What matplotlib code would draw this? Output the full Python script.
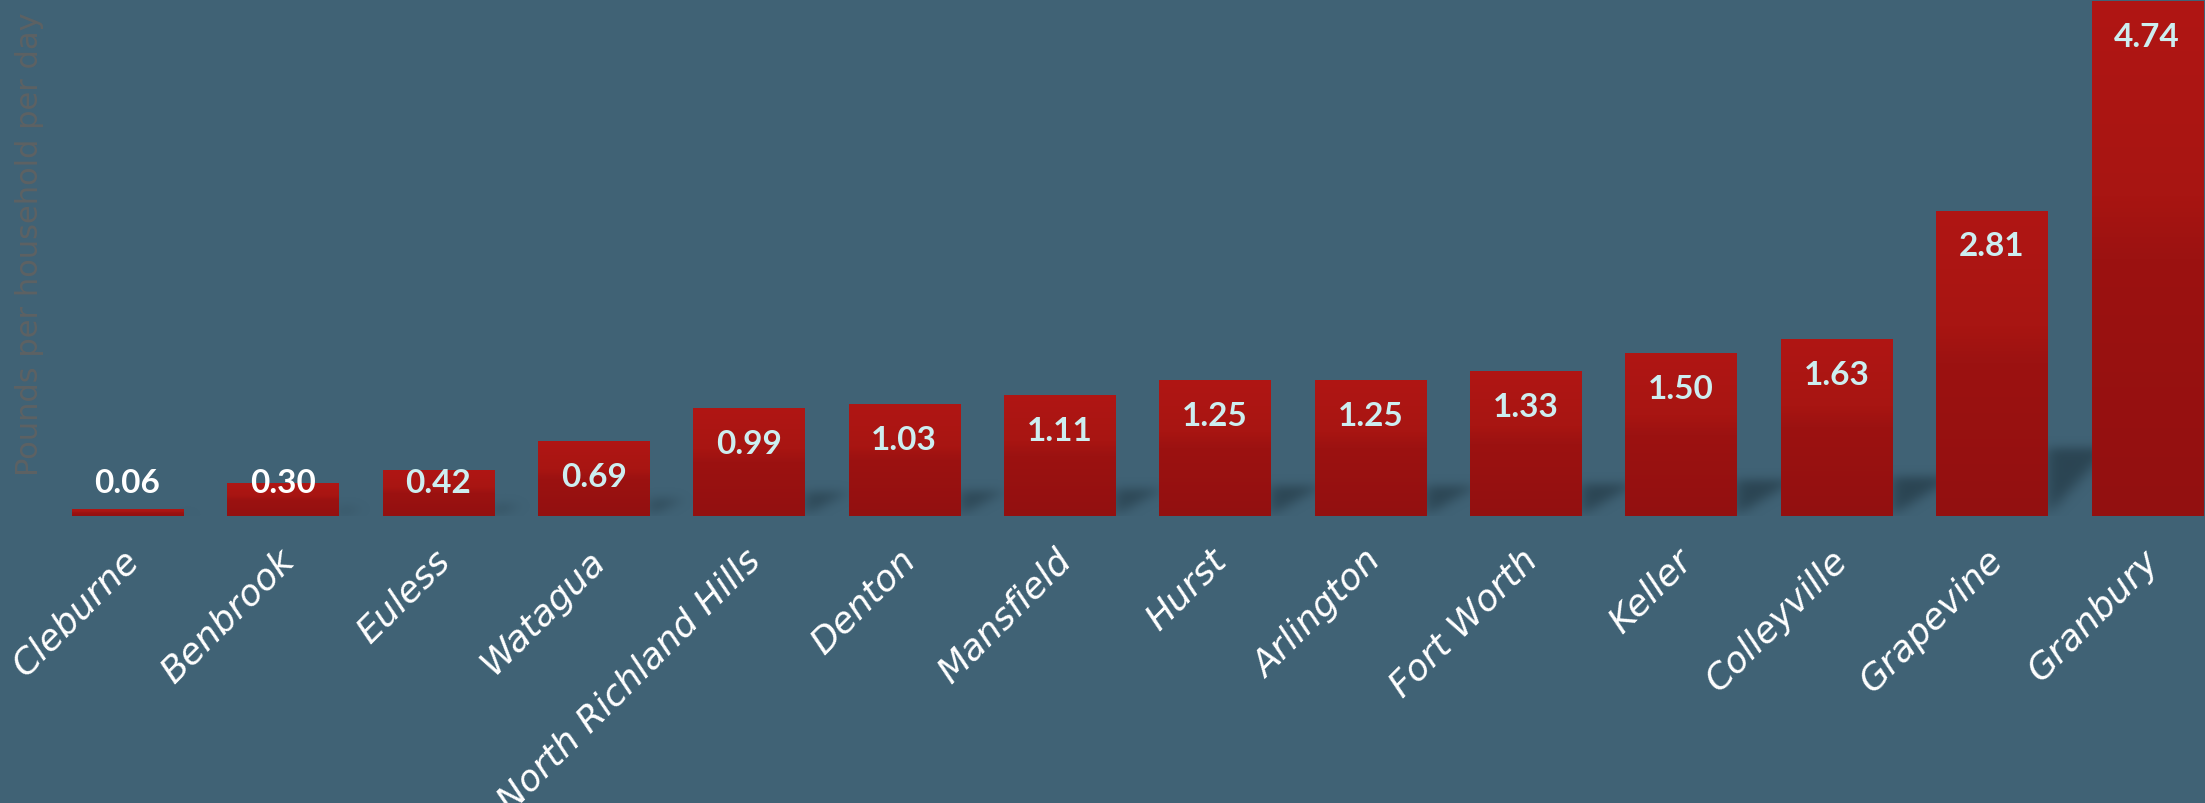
import numpy as np
import matplotlib
matplotlib.use("Agg")
import matplotlib.pyplot as plt
from matplotlib.colors import LinearSegmentedColormap
from matplotlib.transforms import ScaledTranslation

# Pounds per household per day, by city
cities = ["Cleburne", "Benbrook", "Euless", "Watagua", "North Richland Hills",
          "Denton", "Mansfield", "Hurst", "Arlington", "Fort Worth", "Keller",
          "Colleyville", "Grapevine", "Granbury"]
pounds = [0.06, 0.30, 0.42, 0.69, 0.99, 1.03, 1.11, 1.25, 1.25, 1.33, 1.50,
          1.63, 2.81, 4.74]
value_labels = ["0.06", "0.30", "0.42", "0.69", "0.99", "1.03", "1.11", "1.25",
                "1.25", "1.33", "1.50", "1.63", "2.81", "4.74"]

bg = "#406275"
bar_width = 0.715
xlo, xhi = -0.821, 13.373
ytop = 4.758

fig = plt.figure(figsize=(22.05, 8.04), dpi=100, facecolor=bg)
ax = fig.add_axes([0, 287 / 804, 1, 517 / 804])
ax.set_facecolor(bg)
ax.set_xlim(xlo, xhi)
ax.set_ylim(0, ytop)

x = np.arange(len(cities))

# soft wedge-shaped shadows to the right of each bar
nx, ny = 2205, 517
gx = np.linspace(xlo, xhi, nx)
gy = np.linspace(0, ytop, ny)
GX, GY = np.meshgrid(gx, gy)
mask = np.zeros_like(GX)
for xi, h in zip(x, pounds):
    xr = xi + bar_width / 2
    ts = 0.22 * h
    reach = 0.32 * min(h, 1.6) / 1.6 + 0.08
    inside = (GY <= ts) & (GX >= xr) & (GX <= xr + reach * GY / max(ts, 1e-3))
    mask = np.maximum(mask, inside * min(0.35 + 0.25 * h, 0.7))

def blur(a, sigma, axis):
    k = np.arange(-3 * sigma, 3 * sigma + 1)
    k = np.exp(-0.5 * (k / sigma) ** 2)
    k /= k.sum()
    return np.apply_along_axis(lambda r: np.convolve(r, k, mode="same"), axis, a)

alpha = blur(blur(mask, 7, 1), 5, 0)
shadow = np.zeros(GX.shape + (4,))
shadow[..., 0:3] = np.array([0x22, 0x38, 0x44]) / 255
shadow[..., 3] = np.clip(alpha, 0, 1)
ax.imshow(shadow, extent=(xlo, xhi, 0, ytop), origin="lower",
          aspect="auto", zorder=1, interpolation="bilinear")

bars = ax.bar(x, pounds, width=bar_width, color="#a31411", zorder=2)

grad = LinearSegmentedColormap.from_list(
    "barred", [(0, "#931010"), (0.5, "#9c1211"), (0.62, "#a81512"), (1, "#b01614")])
for b in bars:
    x0, w, h = b.get_x(), b.get_width(), b.get_height()
    im = ax.imshow(np.linspace(0, 1, 200).reshape(-1, 1), cmap=grad,
                   extent=(x0, x0 + w, 0, h), origin="lower", aspect="auto",
                   zorder=3)
    im.set_clip_path(b)

# value labels, just inside the top of each bar
for i, (xi, h, txt) in enumerate(zip(x, pounds, value_labels)):
    ly = max(h - 0.325, 0.308)
    col = "white" if i < 2 else "#cdeef0"
    ax.text(xi, ly, txt, ha="center", va="center", fontsize=24,
            fontweight="bold", family="Lato", color=col, zorder=4)

ax.set_xticks(x)
ax.set_xticklabels(cities, rotation=45, ha="right", rotation_mode="anchor",
                   fontsize=26, family="DejaVu Sans", fontstyle="oblique",
                   color="white")
ax.tick_params(axis="x", length=0, pad=19)
shift = ScaledTranslation(-6 / 100, 0, fig.dpi_scale_trans)
for lab in ax.get_xticklabels():
    lab.set_transform(lab.get_transform() + shift)
ax.set_yticks([])
for s in ax.spines.values():
    s.set_visible(False)

fig.text(0.0136, 0.696, "Pounds per household per day", rotation=90,
         ha="center", va="center", fontsize=22, color="#5d6163",
         family="DejaVu Sans")

fig.savefig("out.png", dpi=100, facecolor=bg)
